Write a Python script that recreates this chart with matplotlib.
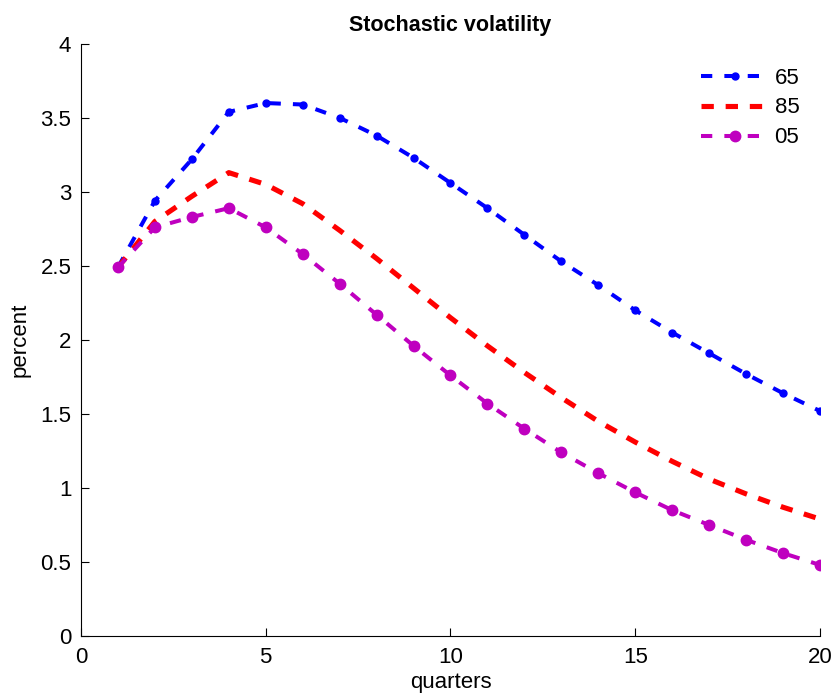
import matplotlib
matplotlib.use("Agg")
import matplotlib.pyplot as plt

plt.rcParams['font.family'] = ['Liberation Sans', 'DejaVu Sans']

quarters = list(range(1, 21))
s65 = [2.49, 2.94, 3.22, 3.54, 3.60, 3.59, 3.50, 3.38, 3.23, 3.06,
       2.89, 2.71, 2.53, 2.37, 2.20, 2.05, 1.91, 1.77, 1.64, 1.52]
s85 = [2.49, 2.80, 2.97, 3.13, 3.05, 2.92, 2.74, 2.55, 2.35, 2.15,
       1.96, 1.78, 1.61, 1.45, 1.31, 1.18, 1.06, 0.96, 0.87, 0.79]
s05 = [2.49, 2.76, 2.83, 2.89, 2.76, 2.58, 2.38, 2.17, 1.96, 1.76,
       1.57, 1.40, 1.24, 1.10, 0.97, 0.85, 0.75, 0.65, 0.56, 0.48]
labels = ['65', '85', '05']

fig = plt.figure(figsize=(8.35, 7.0), dpi=100)
ax = fig.add_axes([0.097, 0.0914, 0.885, 0.846])

ax.plot(quarters, s65, color=(0, 0, 1), lw=2.9, dashes=(2.8, 3.0),
        marker='o', ms=5, label=labels[0])
ax.plot(quarters, s85, color=(1, 0, 0), lw=3.7, dashes=(2.4, 2.3),
        label=labels[1])
ax.plot(quarters, s05, color=(0.75, 0, 0.75), lw=2.9, dashes=(2.8, 3.0),
        marker='o', ms=7.5, label=labels[2])

ax.set_xlim(0, 20)
ax.set_ylim(0, 4)
ax.set_xticks([0, 5, 10, 15, 20])
ax.set_yticks([0, 0.5, 1, 1.5, 2, 2.5, 3, 3.5, 4])
ax.set_yticklabels(['0', '0.5', '1', '1.5', '2', '2.5', '3', '3.5', '4'])
ax.spines['top'].set_visible(False)
ax.spines['right'].set_visible(False)
ax.tick_params(direction='in', length=6, labelsize=16, width=0.8)
ax.tick_params(axis='x', pad=8)
ax.tick_params(axis='y', pad=7)
ax.set_xlabel('quarters', fontsize=16, labelpad=3)
ax.set_ylabel('percent', fontsize=16, labelpad=7)
ax.set_title('Stochastic volatility', fontsize=15.5, fontweight='bold', pad=9)

leg = ax.legend(loc='upper right', frameon=False, fontsize=16,
                handlelength=3.0, handletextpad=0.3, labelspacing=0.4,
                borderaxespad=0, bbox_to_anchor=(0.984, 0.975))

fig.savefig('out.png', dpi=100)
